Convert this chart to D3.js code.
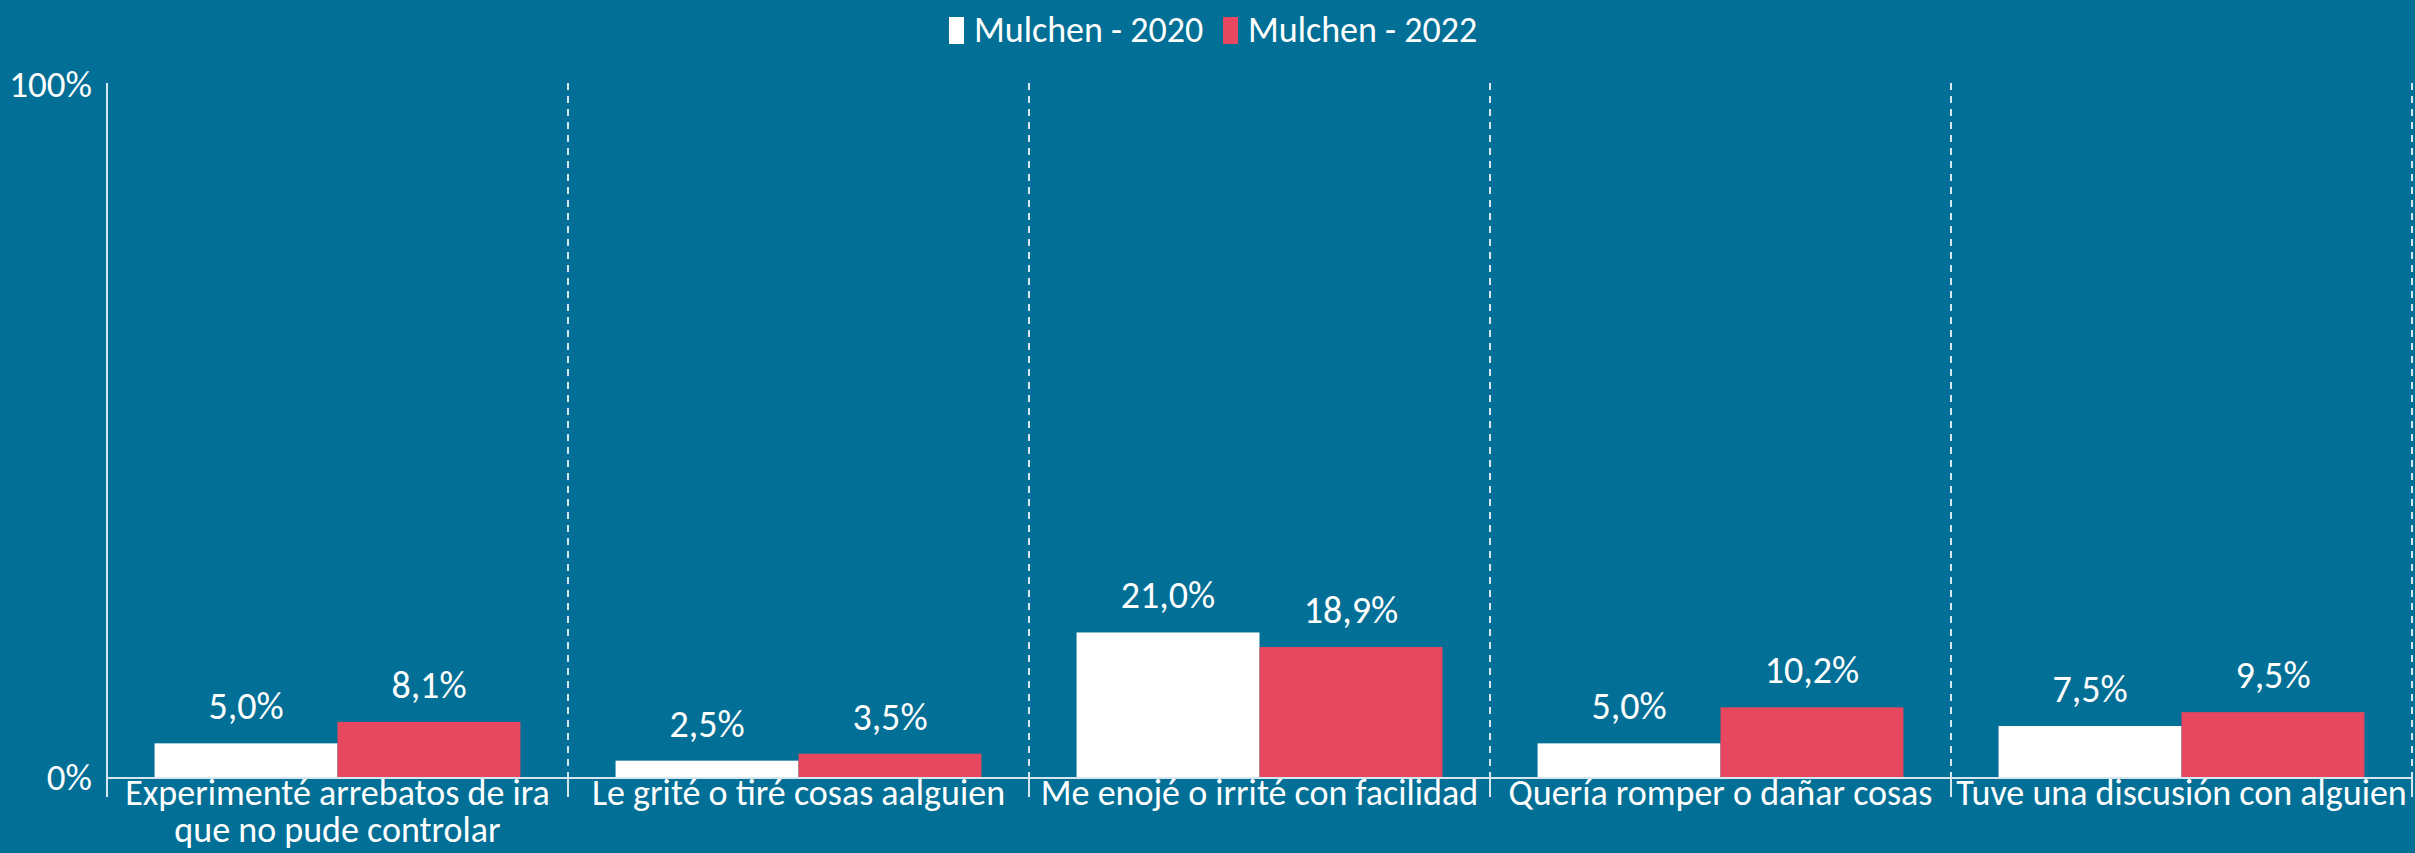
<!DOCTYPE html>
<html>
<head>
<meta charset="utf-8">
<script src="https://cdn.jsdelivr.net/npm/d3@7"></script>
<style>
  html, body { margin: 0; padding: 0; background: #026F96; }
  svg { display: block; }
  text { font-family: Calibri, Carlito, Lato, sans-serif; fill: #ffffff; }
</style>
</head>
<body>
<svg id="chart" width="2415" height="853"></svg>
<script>
const categories = [
  "Experimenté arrebatos de ira\nque no pude controlar",
  "Le grité o tiré cosas aalguien",
  "Me enojé o irrité con facilidad",
  "Quería romper o dañar cosas",
  "Tuve una discusión con alguien"
];
const seriesNames = ["Mulchen - 2020", "Mulchen - 2022"];
const values2020 = [5.0, 2.5, 21.0, 5.0, 7.5];
const values2022 = [8.1, 3.5, 18.9, 10.2, 9.5];
const yTicks = [0, 100];

const W = 2415, H = 853;
const margin = { left: 107, right: 3, top: 85, baseline: 778 };
const colors = { "Mulchen - 2020": "#FFFFFF", "Mulchen - 2022": "#E8485F" };
const lineColor = "#D6E6EE";

const svg = d3.select("#chart");
svg.append("rect").attr("width", W).attr("height", H).attr("fill", "#026F96");

const x0 = d3.scaleBand().domain(categories).range([margin.left, W - margin.right]).padding(0);
const x1 = d3.scaleBand().domain(seriesNames).range([0, x0.bandwidth()]).paddingInner(0).paddingOuter(0.26);
const y = d3.scaleLinear().domain([0, 100]).range([margin.baseline, margin.top]);

const locale = d3.formatLocale({ decimal: ",", thousands: ".", grouping: [3], currency: ["", ""] });
const fmt = locale.format(".1f");

const rows = categories.map((c, i) => ({
  cat: c,
  vals: [
    { s: seriesNames[0], v: values2020[i] },
    { s: seriesNames[1], v: values2022[i] }
  ]
}));

// dashed gridlines at category boundaries (the first boundary is the y axis)
const boundaries = categories.map(c => x0(c) + x0.bandwidth());
svg.append("g").selectAll("line").data(boundaries).join("line")
  .attr("x1", d => d).attr("x2", d => d)
  .attr("y1", y(100) - 2).attr("y2", y(0))
  .attr("stroke", lineColor).attr("stroke-width", 2)
  .attr("stroke-dasharray", "7,6");

// ticks below baseline at boundaries
const allBounds = [x0(categories[0])].concat(boundaries);
svg.append("g").selectAll("line").data(allBounds).join("line")
  .attr("x1", d => d).attr("x2", d => d)
  .attr("y1", y(0)).attr("y2", y(0) + 19)
  .attr("stroke", lineColor).attr("stroke-width", 2);

// bars
const groups = svg.append("g").selectAll("g").data(rows).join("g")
  .attr("transform", d => `translate(${x0(d.cat)},0)`);
groups.selectAll("rect").data(d => d.vals).join("rect")
  .attr("x", d => x1(d.s))
  .attr("y", d => y(d.v))
  .attr("width", x1.bandwidth())
  .attr("height", d => y(0) - y(d.v))
  .attr("fill", d => colors[d.s]);

groups.selectAll("text.val").data(d => d.vals).join("text")
  .attr("class", "val")
  .attr("x", d => x1(d.s) + x1.bandwidth() / 2)
  .attr("y", d => y(d.v) - 24)
  .attr("text-anchor", "middle")
  .style("font-size", "38px")
  .text(d => fmt(d.v) + "%");

// baseline
svg.append("line")
  .attr("x1", margin.left).attr("x2", W - margin.right + 1)
  .attr("y1", y(0)).attr("y2", y(0))
  .attr("stroke", lineColor).attr("stroke-width", 2);

// y axis
const yAxis = d3.axisLeft(y).tickValues(yTicks).tickSize(0).tickPadding(15)
  .tickFormat(d => d + "%");
const gy = svg.append("g").attr("transform", `translate(${margin.left},0)`).call(yAxis);
gy.select(".domain").remove();
gy.selectAll("text").style("font-size", "37px").attr("fill", "#ffffff")
  .style("font-family", "Calibri, Carlito, Lato, sans-serif");
svg.append("line")
  .attr("x1", margin.left).attr("x2", margin.left)
  .attr("y1", y(100) - 2).attr("y2", y(0) + 19)
  .attr("stroke", lineColor).attr("stroke-width", 2);

// category labels (explicit line breaks)
svg.append("g").selectAll("text").data(categories).join("text")
  .attr("x", d => x0(d) + x0.bandwidth() / 2)
  .attr("y", y(0) + 27)
  .attr("text-anchor", "middle")
  .style("font-size", "36px")
  .each(function (d) {
    const t = d3.select(this);
    d.split("\n").forEach((ln, i) => {
      t.append("tspan").attr("x", t.attr("x")).attr("dy", i === 0 ? 0 : 37).text(ln);
    });
  });

// legend
const legend = svg.append("g");
const legendX = [949, 1223];
seriesNames.forEach((s, i) => {
  const g = legend.append("g").attr("transform", `translate(${legendX[i]},0)`);
  g.append("rect").attr("x", 0).attr("y", 17).attr("width", 15).attr("height", 27).attr("fill", colors[s]);
  g.append("text").attr("x", 25).attr("y", 42).style("font-size", "36px").text(s);
});
</script>
</body>
</html>
